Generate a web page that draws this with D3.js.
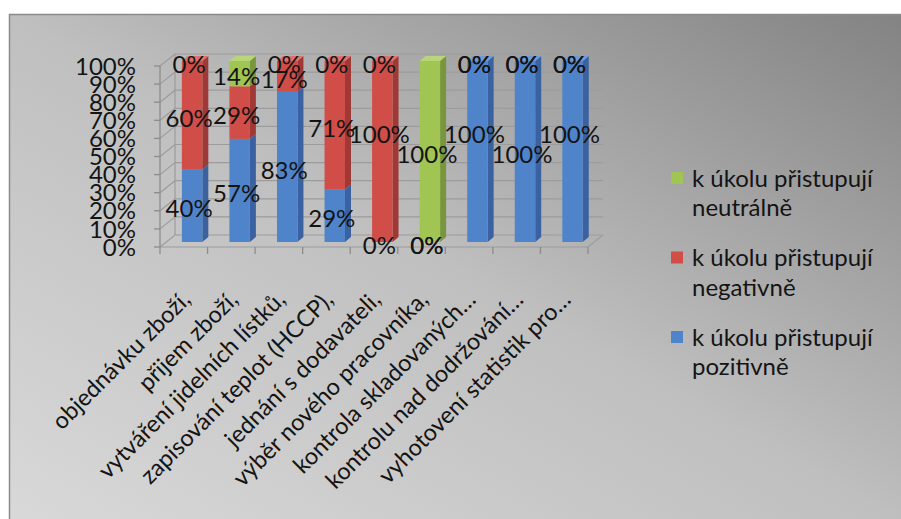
<!DOCTYPE html>
<html>
<head>
<meta charset="utf-8">
<script src="https://cdn.jsdelivr.net/npm/d3@7"></script>
<style>
  html, body { margin: 0; padding: 0; background: #ffffff; }
  svg { display: block; }
  text { font-family: Lato, "Open Sans", "Noto Sans", sans-serif; fill: #141414; }
</style>
</head>
<body>
<svg id="chart" width="901" height="519"></svg>
<script>
// Task areas (category axis)
const categories = [
  "objednávku zboží,",
  "přijem zboží,",
  "vytváření jidelních lístků,",
  "zapisování teplot (HCCP),",
  "jednání s dodavateli,",
  "výběr nového pracovníka,",
  "kontrola skladovaných…",
  "kontrolu nad dodržování…",
  "vyhotovení statistik pro…"
];

// Share of answers per task, in percent
const positive = [40, 57, 83, 29, 0, 0, 100, 100, 100];
const negative = [60, 29, 17, 71, 100, 0, 0, 0, 0];
const neutral  = [0, 14, 0, 0, 0, 100, 0, 0, 0];

const seriesNames = [
  "k úkolu přistupují pozitivně",
  "k úkolu přistupují negativně",
  "k úkolu přistupují neutrálně"
];
const yTicks = [0, 10, 20, 30, 40, 50, 60, 70, 80, 90, 100];

const svg = d3.select("#chart");

// Background panel with diagonal grey gradient
const defs = svg.append("defs");
const grad = defs.append("linearGradient")
  .attr("id", "bg").attr("x1", 1).attr("y1", 0).attr("x2", 0).attr("y2", 1);
grad.append("stop").attr("offset", 0).attr("stop-color", "#828282");
grad.append("stop").attr("offset", 0.5).attr("stop-color", "#bfbfbf");
grad.append("stop").attr("offset", 1).attr("stop-color", "#d9d9d9");

svg.append("rect")
  .attr("x", 9.5).attr("y", 14.5).attr("width", 905).attr("height", 515)
  .attr("fill", "url(#bg)").attr("stroke", "#8a8a8a").attr("stroke-width", 1.5);

// Scales on the front plane of the 3D box
const x = d3.scaleBand().domain(categories).range([160, 588]).padding(0);
const y = d3.scaleLinear().domain([0, 100]).range([247, 66]);
const bw = x.bandwidth();

// Depth offsets: walls, bar placement and bar thickness
const wallDx = 15, wallDy = -12;
const barDx = 8, barDy = -5;
const depDx = 6, depDy = -5;

const grid = svg.append("g").attr("stroke", "#9c9c9c").attr("stroke-width", 1.2).attr("fill", "none");
const x0 = x.range()[0], x1 = x.range()[1];

// Side wall + back wall gridlines
yTicks.forEach(t => {
  const yy = y(t);
  grid.append("path")
    .attr("d", `M${x0},${yy} L${x0 + wallDx},${yy + wallDy} L${x1 + wallDx},${yy + wallDy}`);
});
// Back wall left edge
grid.append("line")
  .attr("x1", x0 + wallDx).attr("x2", x0 + wallDx)
  .attr("y1", y(0) + wallDy).attr("y2", y(100) + wallDy);
// Floor outline
grid.append("path")
  .attr("d", `M${x0},${y(0)} L${x1},${y(0)} L${x1 + wallDx},${y(0) + wallDy}`);

// Vertical axis line, ticks and labels
const axisG = svg.append("g").attr("stroke", "#8c8c8c").attr("stroke-width", 1.3);
axisG.append("line").attr("x1", x0).attr("x2", x0).attr("y1", y(0)).attr("y2", y(100));
yTicks.forEach(t => {
  axisG.append("line").attr("x1", x0 - 6).attr("x2", x0).attr("y1", y(t)).attr("y2", y(t));
});
// Category tick marks at band boundaries
const bounds = categories.map(c => x(c)).concat([x1]);
bounds.forEach(b => {
  axisG.append("line").attr("x1", b).attr("x2", b).attr("y1", y(0)).attr("y2", y(0) + 7);
});

svg.append("g").selectAll("text").data(yTicks).join("text")
  .attr("x", 136).attr("y", d => y(d))
  .attr("dy", "0.36em")
  .attr("text-anchor", "end")
  .attr("font-size", 24)
  .text(d => d + "%");

// Stacked data
const rows = categories.map((c, i) => ({ cat: c, pos: positive[i], neg: negative[i], neu: neutral[i] }));
const stack = d3.stack().keys(["pos", "neg", "neu"]);
const stacked = stack(rows);

const colors = {
  pos: { front: "#4f84cb", side: "#3a62a0", top: "#6f9ad6" },
  neg: { front: "#d04d48", side: "#a03935", top: "#de716c" },
  neu: { front: "#a0c553", side: "#78973c", top: "#b8d679" }
};

const barsG = svg.append("g");
categories.forEach((c, i) => {
  const bx = x(c) + bw * 0.46;
  const w = bw * 0.43;
  stacked.forEach(layer => {
    const seg = layer[i];
    const v = seg[1] - seg[0];
    if (v <= 0) return;
    const col = colors[layer.key];
    const yt = y(seg[1]) + barDy;
    const yb = y(seg[0]) + barDy;
    const fx = bx;
    // side face
    barsG.append("path")
      .attr("d", `M${fx + w},${yt} L${fx + w + depDx},${yt + depDy} L${fx + w + depDx},${yb + depDy} L${fx + w},${yb} Z`)
      .attr("fill", col.side);
    // top face
    barsG.append("path")
      .attr("d", `M${fx},${yt} L${fx + depDx},${yt + depDy} L${fx + w + depDx},${yt + depDy} L${fx + w},${yt} Z`)
      .attr("fill", col.top);
    // front face
    barsG.append("rect")
      .attr("x", fx).attr("y", yt).attr("width", w).attr("height", yb - yt)
      .attr("fill", col.front);
  });
});

// Value labels centred on each segment (zero shares sit on the boundary)
const labelG = svg.append("g");
categories.forEach((c, i) => {
  const cx = x(c) + bw * 0.46 + bw * 0.43 / 2 - 3;
  stacked.forEach(layer => {
    const seg = layer[i];
    const v = seg[1] - seg[0];
    let ly = y((seg[0] + seg[1]) / 2) + barDy + 3;
    // full-height labels alternate position so neighbours do not collide
    if (v === 100 && i % 2 === 0) ly -= 20;
    labelG.append("text")
      .attr("x", cx).attr("y", ly)
      .attr("dy", "0.36em")
      .attr("text-anchor", "middle")
      .attr("font-size", 24)
      .text(v + "%");
  });
});

// Rotated category labels
svg.append("g").selectAll("text").data(categories).join("text")
  .attr("transform", d => `translate(${x(d) + bw / 2 + 8},${301}) rotate(-45)`)
  .attr("text-anchor", "end")
  .attr("font-size", 23.5)
  .text(d => d);

// Legend (neutral on top, positive at the bottom)
const legendItems = [
  { key: "neu", lines: ["k úkolu přistupují", "neutrálně"] },
  { key: "neg", lines: ["k úkolu přistupují", "negativně"] },
  { key: "pos", lines: ["k úkolu přistupují", "pozitivně"] }
];
const legG = svg.append("g");
legendItems.forEach((it, k) => {
  const top = 178 + k * 79.5;
  legG.append("rect")
    .attr("x", 671).attr("y", top - 6).attr("width", 12).attr("height", 12)
    .attr("fill", colors[it.key].front);
  it.lines.forEach((ln, j) => {
    legG.append("text")
      .attr("x", 692).attr("y", top + j * 29.5)
      .attr("dy", "0.36em")
      .attr("font-size", 24)
      .text(ln);
  });
});
</script>
</body>
</html>
